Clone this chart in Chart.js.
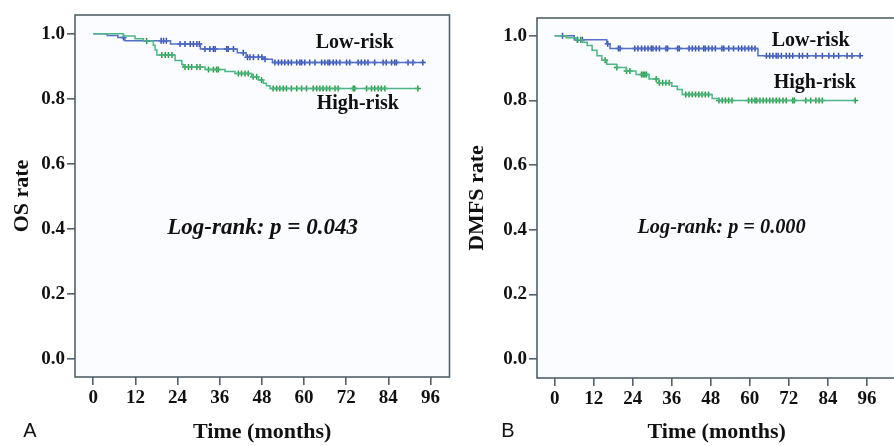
<!DOCTYPE html>
<html>
<head>
<meta charset="utf-8">
<script src="https://cdn.jsdelivr.net/npm/chart.js@4.4.1/dist/chart.umd.min.js"></script>
<style>
  html, body { margin: 0; background: #fff; }
  #wrap { position: relative; width: 894px; height: 446px; overflow: hidden; }
  canvas { position: absolute; top: 0; }
  #chartA { left: 0; }
  #chartB { left: 447px; }
</style>
</head>
<body>
<div id="wrap">
  <canvas id="chartA" width="455" height="446"></canvas>
  <canvas id="chartB" width="455" height="446"></canvas>
</div>
<script>
const xTicks = [0, 12, 24, 36, 48, 60, 72, 84, 96]
const yTicks = [0, 0.2, 0.4, 0.6, 0.8, 1.0]

// A: OS, step times (months) and rate after each step, censored times
const osLowTimes = [0, 4, 7, 9, 22, 30.5, 41, 43.5, 48.5, 51]
const osLowRate = [1.0, 0.995, 0.989, 0.979, 0.969, 0.953, 0.942, 0.928, 0.922, 0.912]
const osLowCensor = [8.6, 19.3, 20, 20.8, 24.7, 26.1, 27.6, 28.5, 29.5, 30.2, 31.8, 33.2, 34.2, 34.7, 38, 38.4, 39.9,
  42.7, 43.9, 44.6, 45.6, 47, 48, 48.9, 51.7, 52.7, 53.6, 54.5, 55.5, 56.4, 57.9, 58.8, 59.3, 60.2, 61.6, 63.1, 65,
  65.9, 66.8, 67.3, 68.3, 69.2, 70.2, 72.1, 73, 75.4, 76.3, 77.3, 78.2, 80.1, 82.5, 83.4, 84.9, 85.8, 86.3, 89.6, 91, 93.8]

const osHighTimes = [0, 8.6, 11.9, 14.3, 17.1, 17.6, 18.1, 23.3, 25.2, 25.7, 31.8, 37.5, 40.3, 45.1, 47, 48.4, 49.3, 50.3]
const osHighRate = [1.0, 0.993, 0.985, 0.978, 0.965, 0.950, 0.935, 0.918, 0.906, 0.898, 0.890, 0.884, 0.878, 0.868, 0.858, 0.848, 0.840, 0.832]
const osHighCensor = [15.2, 19.5, 20.5, 21.4, 22.4, 26.1, 27.1, 28, 29.5, 30.4, 32.8, 34.2, 35.1, 35.6, 41.3, 42.2, 43.2,
  44.1, 45.5, 46.5, 47.9, 51.2, 52.2, 53.1, 54.1, 55, 56.4, 57.9, 59.3, 60.7, 62.6, 63.6, 64.5, 65.4, 66.4, 67.3, 68.8,
  69.7, 74, 74.4, 77.8, 79.2, 80.1, 81.1, 82, 83, 92.4]

// B: DMFS
const dmfsLowTimes = [0, 6, 16, 17, 62.5]
const dmfsLowRate = [1.0, 0.988, 0.975, 0.961, 0.938]
const dmfsLowCensor = [2.4, 7, 8.5, 16.3, 19.6, 20.1, 24.6, 25.6, 26.7, 27.7, 28.7, 29.7, 30.2, 31.2, 32.2, 34.2, 34.7,
  37.8, 38.3, 41.3, 42.3, 43.3, 44.3, 45.8, 46.3, 47.3, 48.4, 49.4, 51.4, 52, 53.5, 55, 56.5, 57.5, 58.5, 59.6, 60.6,
  61.6, 65.1, 66.1, 67.1, 68.1, 68.7, 69.7, 71.2, 72.2, 73.2, 75.2, 76.2, 77.7, 80.3, 82.3, 84.3, 85.8, 87.3, 89.9, 91.4, 93.9]

const dmfsHighTimes = [0, 3.5, 6.5, 8.5, 10, 11.5, 13, 14.5, 16, 19, 22, 25, 29, 32, 36, 37.7, 39.2, 48.4, 50.4]
const dmfsHighRate = [1.0, 0.994, 0.988, 0.980, 0.970, 0.955, 0.938, 0.924, 0.912, 0.902, 0.891, 0.880, 0.866, 0.855, 0.844, 0.834, 0.818, 0.806, 0.800]
const dmfsHighCensor = [7, 8, 15.5, 19.1, 22.1, 23.1, 26.7, 27.2, 27.7, 28.2, 31.2, 32.2, 33.2, 34.2, 35.2, 40.3, 41.3,
  42.3, 43.3, 44.3, 45.3, 46.3, 47.3, 50.5, 51.5, 52.5, 53.5, 54.5, 59.6, 60.6, 61.6, 62.1, 63.1, 64.1, 65.1, 66.1,
  67.1, 68.1, 69.1, 70.2, 71.2, 73.2, 73.7, 77.2, 78.7, 80.3, 81.3, 82.3, 92.4]

const serif = "'Liberation Serif', 'Times New Roman', serif"
const axisColor = "#52616b"
const lowLine = "#5270c8", lowMark = "#344fae"
const highLine = "#4db687", highMark = "#2b9c44"

function rateAt(times, rates, t) {
  let k = 0
  while (k + 1 < times.length && times[k + 1] <= t) k++
  return rates[k]
}

function curve(times, rates, censor, line) {
  const pts = times.map((t, i) => ({ x: t, y: rates[i] }))
  pts.push({ x: Math.max(...censor), y: rates[rates.length - 1] })
  return { data: pts, stepped: true, borderColor: line, borderWidth: 1.5, pointRadius: 0, fill: false }
}

function marks(times, rates, censor, color) {
  return {
    data: censor.map(c => ({ x: c, y: rateAt(times, rates, c) })),
    showLine: false, pointStyle: "cross", pointRadius: 3, borderColor: color, borderWidth: 1.5
  }
}

const framePlugin = {
  id: "frame",
  beforeDatasetsDraw(chart) {
    const { ctx, chartArea: a } = chart
    ctx.save()
    ctx.fillStyle = "#fbfcff"
    ctx.fillRect(a.left, a.top, a.right - a.left, a.bottom - a.top)
    ctx.restore()
  },
  afterDraw(chart, args, opts) {
    const { ctx, chartArea: a, scales } = chart
    ctx.save()
    ctx.strokeStyle = axisColor
    ctx.lineWidth = 1.6
    ctx.strokeRect(a.left, a.top, a.right - a.left, a.bottom - a.top)
    ctx.fillStyle = "#111"
    ctx.textAlign = "center"
    ctx.textBaseline = "middle"
    opts.notes.forEach(n => {
      ctx.font = n.font
      ctx.fillText(n.text, scales.x.getPixelForValue(n.x), scales.y.getPixelForValue(n.y))
    })
    ctx.font = "20px 'Liberation Sans', Arial, sans-serif"
    ctx.fillText(opts.letter, opts.letterX, 431)
    ctx.restore()
  }
}

function makeChart(id, o) {
  return new Chart(document.getElementById(id), {
    type: "line",
    data: { datasets: o.datasets },
    plugins: [framePlugin],
    options: {
      responsive: false,
      animation: false,
      layout: { padding: { top: o.top, right: o.right, left: 0, bottom: 0 } },
      plugins: { legend: { display: false }, tooltip: { enabled: false }, frame: o.frame },
      scales: {
        x: {
          type: "linear", min: o.xMin, max: o.xMax,
          afterBuildTicks: s => { s.ticks = xTicks.map(v => ({ value: v })) },
          afterFit: s => { s.height = o.xHeight },
          grid: { drawOnChartArea: false, tickLength: 8, color: axisColor, lineWidth: 1.6 },
          border: { display: false },
          ticks: { color: "#111", padding: 2, maxRotation: 0, autoSkip: false, font: { family: serif, size: 19, weight: "bold" } },
          title: { display: true, text: "Time (months)", color: "#111", padding: 0, font: { family: serif, size: 22, weight: "bold" } }
        },
        y: {
          min: o.yMin, max: o.yMax,
          afterBuildTicks: s => { s.ticks = yTicks.map(v => ({ value: v })) },
          afterFit: s => { s.width = o.yWidth },
          grid: { drawOnChartArea: false, tickLength: 8, color: axisColor, lineWidth: 1.6 },
          border: { display: false },
          ticks: { color: "#111", padding: 2, callback: v => v.toFixed(1), font: { family: serif, size: 19, weight: "bold" } },
          title: { display: true, text: o.yTitle, color: "#111", padding: { top: o.yTitlePad, bottom: 0 }, font: { family: serif, size: 22, weight: "bold" } }
        }
      }
    }
  })
}

const bold20 = "bold 20px " + serif

makeChart("chartA", {
  top: 15, right: 5, xHeight: 69, yWidth: 75, yTitlePad: 9,
  xMin: -5.2, xMax: 101.4, yMin: -0.056, yMax: 1.058, yTitle: "OS rate",
  datasets: [
    curve(osHighTimes, osHighRate, osHighCensor, highLine),
    curve(osLowTimes, osLowRate, osLowCensor, lowLine),
    marks(osHighTimes, osHighRate, osHighCensor, highMark),
    marks(osLowTimes, osLowRate, osLowCensor, lowMark)
  ],
  frame: {
    letter: "A", letterX: 30,
    notes: [
      { text: "Low-risk", x: 74.4, y: 0.972, font: bold20 },
      { text: "High-risk", x: 75.3, y: 0.785, font: bold20 },
      { text: "Log-rank: p = 0.043", x: 48.2, y: 0.403, font: "italic bold 23px " + serif }
    ]
  }
})

makeChart("chartB", {
  top: 18, right: 0, xHeight: 68, yWidth: 90, yTitlePad: 17,
  xMin: -5.45, xMax: 105.1, yMin: -0.059, yMax: 1.055, yTitle: "DMFS rate",
  datasets: [
    curve(dmfsHighTimes, dmfsHighRate, dmfsHighCensor, highLine),
    curve(dmfsLowTimes, dmfsLowRate, dmfsLowCensor, lowLine),
    marks(dmfsHighTimes, dmfsHighRate, dmfsHighCensor, highMark),
    marks(dmfsLowTimes, dmfsLowRate, dmfsLowCensor, lowMark)
  ],
  frame: {
    letter: "B", letterX: 61,
    notes: [
      { text: "Low-risk", x: 78.7, y: 0.985, font: bold20 },
      { text: "High-risk", x: 80, y: 0.854, font: bold20 },
      { text: "Log-rank: p = 0.000", x: 51.3, y: 0.406, font: "italic bold 20.3px " + serif }
    ]
  }
})
</script>
</body>
</html>
